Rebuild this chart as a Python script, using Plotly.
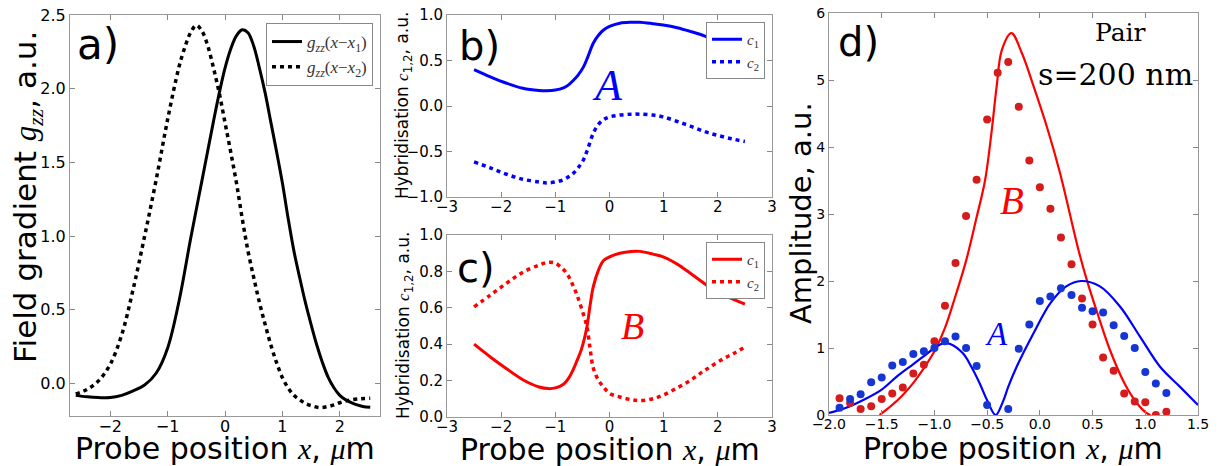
import plotly.graph_objects as go

# ---------------- data ----------------
# panel a: field gradient g_zz
a_x_solid = [-2.6, -2.4, -2.2, -2.0, -1.8, -1.6, -1.4, -1.2, -1.0, -0.8, -0.6, -0.4, -0.2, -0.1, 0.0, 0.1, 0.2, 0.3, 0.4, 0.5,
             0.6, 0.7, 0.8, 0.9, 1.0, 1.1, 1.2, 1.3, 1.4, 1.5, 1.6, 1.7, 1.8, 1.9, 2.0, 2.1, 2.2, 2.3, 2.4, 2.53]
a_y_solid = [-0.08, -0.09, -0.095, -0.095, -0.08, -0.05, -0.01, 0.07, 0.24, 0.56, 0.98, 1.38, 1.78, 1.97, 2.14, 2.27, 2.36, 2.40, 2.38, 2.29,
             2.14, 1.97, 1.77, 1.57, 1.36, 1.12, 0.90, 0.72, 0.55, 0.40, 0.26, 0.14, 0.04, -0.03, -0.08, -0.11, -0.13, -0.145, -0.155, -0.16]
a_x_dot = [-2.6, -2.4, -2.2, -2.0, -1.8, -1.6, -1.4, -1.2, -1.0, -0.8, -0.7, -0.6, -0.5, -0.4, -0.3, -0.2, -0.1, 0.0, 0.1, 0.2,
           0.3, 0.4, 0.5, 0.6, 0.7, 0.8, 0.9, 1.0, 1.1, 1.2, 1.3, 1.4, 1.5, 1.66, 1.8, 1.9, 2.0, 2.13, 2.3, 2.53]
a_y_dot = [-0.07, -0.04, 0.02, 0.13, 0.33, 0.64, 1.00, 1.38, 1.79, 2.15, 2.28, 2.38, 2.43, 2.39, 2.29, 2.14, 1.97, 1.77, 1.57, 1.36,
           1.12, 0.90, 0.72, 0.55, 0.40, 0.26, 0.14, 0.04, -0.03, -0.08, -0.11, -0.135, -0.15, -0.163, -0.155, -0.145, -0.13, -0.115, -0.105, -0.10]

# panel b: hybridisation, state A
b_x = [-2.5, -2.2, -1.9, -1.6, -1.3, -1.16, -1.0, -0.85, -0.75, -0.67, -0.58, -0.48, -0.4, -0.3, -0.2, -0.11, 0.0, 0.19,
       0.4, 0.56, 0.8, 0.99, 1.25, 1.49, 1.75, 1.98, 2.25, 2.5]
b_c1 = [0.40, 0.32, 0.25, 0.195, 0.17, 0.167, 0.175, 0.20, 0.235, 0.28, 0.34, 0.43, 0.54, 0.69, 0.78, 0.835, 0.875, 0.91,
        0.92, 0.92, 0.905, 0.89, 0.86, 0.82, 0.77, 0.71, 0.665, 0.62]
b_c2 = [-0.615, -0.68, -0.75, -0.805, -0.835, -0.845, -0.835, -0.81, -0.775, -0.74, -0.68, -0.59, -0.47, -0.30, -0.20, -0.15, -0.12, -0.10,
        -0.09, -0.09, -0.10, -0.12, -0.17, -0.22, -0.28, -0.32, -0.36, -0.39]

# panel c: hybridisation, state B
c_x = [-2.5, -2.2, -1.9, -1.6, -1.3, -1.13, -1.0, -0.85, -0.75, -0.67, -0.6, -0.52, -0.42, -0.36, -0.3, -0.2, -0.11, 0.0,
       0.19, 0.4, 0.56, 0.8, 0.99, 1.25, 1.49, 1.7, 1.86, 2.1, 2.3, 2.5]
c_c1 = [0.40, 0.33, 0.265, 0.205, 0.165, 0.156, 0.16, 0.18, 0.215, 0.26, 0.31, 0.37, 0.49, 0.61, 0.715, 0.81, 0.86, 0.88,
        0.90, 0.91, 0.91, 0.895, 0.88, 0.84, 0.79, 0.745, 0.71, 0.67, 0.645, 0.62]
c_c2 = [0.605, 0.67, 0.735, 0.795, 0.835, 0.85, 0.845, 0.81, 0.77, 0.72, 0.67, 0.60, 0.50, 0.38, 0.27, 0.20, 0.165, 0.13,
        0.11, 0.095, 0.09, 0.10, 0.12, 0.16, 0.20, 0.245, 0.275, 0.32, 0.35, 0.385]

# panel d: amplitude (theory lines + measured points)
dB_line_x = [-1.52, -1.4, -1.3, -1.2, -1.1, -1.0, -0.9, -0.8, -0.7, -0.6, -0.52, -0.46, -0.41, -0.36, -0.27, -0.17, -0.06, 0.065,
             0.19, 0.365, 0.45, 0.55, 0.665, 0.8, 0.9, 1.01, 1.05]
dB_line_y = [0.0, 0.15, 0.3, 0.48, 0.7, 0.95, 1.3, 1.78, 2.3, 2.95, 3.5, 4.2, 4.9, 5.45, 5.70, 5.40, 4.91, 4.31,
             3.62, 2.47, 1.99, 1.5, 0.97, 0.48, 0.22, 0.03, 0.0]
dA_line_x = [-2.0, -1.85, -1.68, -1.5, -1.36, -1.2, -1.1, -1.0, -0.92, -0.85, -0.73, -0.65, -0.57, -0.5, -0.42, -0.35, -0.3,
             -0.22, -0.06, 0.1, 0.25, 0.39, 0.57, 0.76, 0.95, 1.14, 1.33, 1.5]
dA_line_y = [0.03, 0.10, 0.22, 0.38, 0.57, 0.76, 0.88, 1.0, 1.07, 1.06, 0.92, 0.72, 0.47, 0.22, 0.0, 0.2, 0.42,
             0.72, 1.22, 1.67, 1.92, 2.0, 1.92, 1.62, 1.17, 0.72, 0.42, 0.15]
dB_pts_x = [-1.9, -1.8, -1.7, -1.6, -1.5, -1.4, -1.3, -1.2, -1.1, -1.0, -0.9, -0.8, -0.7, -0.6, -0.5, -0.4, -0.3, -0.2, -0.1, 0.0,
            0.1, 0.2, 0.3, 0.4, 0.5, 0.6, 0.7, 0.8, 0.9, 1.0, 1.1, 1.2]
dB_pts_y = [0.25, 0.18, 0.09, 0.13, 0.24, 0.32, 0.41, 0.62, 0.75, 1.10, 1.63, 2.27, 2.97, 3.51, 4.41, 5.11, 5.27, 4.60, 3.80, 3.40,
            3.08, 2.65, 2.25, 1.74, 1.35, 0.86, 0.66, 0.32, 0.20, 0.19, 0.0, 0.05]
dA_pts_x = [-1.9, -1.8, -1.7, -1.6, -1.5, -1.4, -1.3, -1.2, -1.1, -1.0, -0.9, -0.8, -0.7, -0.6, -0.5, -0.3, -0.2, -0.1, 0.0,
            0.1, 0.2, 0.3, 0.4, 0.5, 0.6, 0.7, 0.8, 0.9, 1.0, 1.1, 1.2]
dA_pts_y = [0.11, 0.24, 0.31, 0.49, 0.56, 0.74, 0.79, 0.91, 0.95, 1.00, 1.10, 1.17, 1.00, 0.73, 0.15, 0.09, 0.99, 1.35, 1.70,
            1.77, 1.89, 1.79, 1.60, 1.55, 1.53, 1.34, 1.18, 1.00, 0.64, 0.47, 0.33]

# tick values
a_xticks = [-2, -1, 0, 1, 2]
a_yticks = [0.0, 0.5, 1.0, 1.5, 2.0, 2.5]
bc_xticks = [-3, -2, -1, 0, 1, 2, 3]
b_yticks = [-1.0, -0.5, 0.0, 0.5, 1.0]
c_yticks = [0.0, 0.2, 0.4, 0.6, 0.8, 1.0]
d_xticks = [-2.0, -1.5, -1.0, -0.5, 0.0, 0.5, 1.0, 1.5]
d_yticks = [0, 1, 2, 3, 4, 5, 6]

# ---------------- styling ----------------
W, H = 1227, 466
BLUE = "#0000ff"
RED = "#ff0000"
BLUE_PT = "#1535d4"
RED_PT = "#d41c1c"
SERIF = "Liberation Serif"
SANS = "DejaVu Sans"


def fx(px):
    return px / W


def fy(py):
    return 1 - py / H


def axis_style(domain, rng, tickvals, size, anchor, fmt=None, standoff=0):
    d = dict(domain=domain, range=rng, tickvals=tickvals, showline=True, linecolor="#999999",
             linewidth=1, mirror="ticks", ticks="inside", ticklen=5, tickcolor="#888888",
             showgrid=False, zeroline=False, automargin=False, anchor=anchor,
             ticklabelstandoff=standoff,
             tickfont=dict(family=SANS, size=size, color="black"))
    if fmt:
        d["tickformat"] = fmt
    return d


fig = go.Figure()
dash_dot = "4px,4px"

# panel a
fig.add_trace(go.Scatter(x=a_x_solid, y=a_y_solid, mode="lines", line=dict(color="black", width=3, shape="spline"),
                         name="<i>g</i><sub><i>zz</i></sub>(<i>x</i>−<i>x</i><sub>1</sub>)", xaxis="x", yaxis="y", legend="legend"))
fig.add_trace(go.Scatter(x=a_x_dot, y=a_y_dot, mode="lines", line=dict(color="black", width=3.5, dash=dash_dot, shape="spline"),
                         name="<i>g</i><sub><i>zz</i></sub>(<i>x</i>−<i>x</i><sub>2</sub>)", xaxis="x", yaxis="y", legend="legend"))
# panel b
fig.add_trace(go.Scatter(x=b_x, y=b_c1, mode="lines", line=dict(color=BLUE, width=3, shape="spline"),
                         name="<i>c</i><sub>1</sub>", xaxis="x2", yaxis="y2", legend="legend2"))
fig.add_trace(go.Scatter(x=b_x, y=b_c2, mode="lines", line=dict(color=BLUE, width=3.5, dash=dash_dot, shape="spline"),
                         name="<i>c</i><sub>2</sub>", xaxis="x2", yaxis="y2", legend="legend2"))
# panel c
fig.add_trace(go.Scatter(x=c_x, y=c_c1, mode="lines", line=dict(color=RED, width=3, shape="spline"),
                         name="<i>c</i><sub>1</sub>", xaxis="x3", yaxis="y3", legend="legend3"))
fig.add_trace(go.Scatter(x=c_x, y=c_c2, mode="lines", line=dict(color=RED, width=3.5, dash=dash_dot, shape="spline"),
                         name="<i>c</i><sub>2</sub>", xaxis="x3", yaxis="y3", legend="legend3"))
# panel d
fig.add_trace(go.Scatter(x=dB_line_x, y=dB_line_y, mode="lines", line=dict(color=RED, width=2.2, shape="spline"),
                         showlegend=False, xaxis="x4", yaxis="y4"))
fig.add_trace(go.Scatter(x=dA_line_x, y=dA_line_y, mode="lines", line=dict(color=BLUE, width=2.2, shape="spline"),
                         showlegend=False, xaxis="x4", yaxis="y4"))
fig.add_trace(go.Scatter(x=dB_pts_x, y=dB_pts_y, mode="markers", marker=dict(color=RED_PT, size=8),
                         showlegend=False, xaxis="x4", yaxis="y4"))
fig.add_trace(go.Scatter(x=dA_pts_x, y=dA_pts_y, mode="markers", marker=dict(color=BLUE_PT, size=8),
                         showlegend=False, xaxis="x4", yaxis="y4"))

legend_common = dict(xanchor="right", yanchor="top", bordercolor="#888888", borderwidth=1,
                     bgcolor="white", tracegroupgap=0, itemwidth=30)

fig.update_layout(
    width=W, height=H, margin=dict(l=0, r=0, t=0, b=0),
    paper_bgcolor="white", plot_bgcolor="white",
    xaxis=axis_style([fx(70), fx(380)], [-2.7, 2.7], a_xticks, 16, "y", standoff=-4),
    yaxis=axis_style([fy(416), fy(15)], [-0.22, 2.5], a_yticks, 16, "x", ".1f"),
    xaxis2=axis_style([fx(447), fx(772)], [-3, 3], bc_xticks, 15, "y2", standoff=-4),
    yaxis2=axis_style([fy(197), fy(15)], [-1, 1], b_yticks, 15, "x2", ".1f"),
    xaxis3=axis_style([fx(447), fx(772)], [-3, 3], bc_xticks, 15, "y3", standoff=-4),
    yaxis3=axis_style([fy(417), fy(235)], [0, 1], c_yticks, 15, "x3", ".1f"),
    xaxis4=axis_style([fx(829), fx(1198)], [-2.0, 1.5], d_xticks, 14, "y4", ".1f", standoff=-4),
    yaxis4=axis_style([fy(415), fy(13)], [0, 6], d_yticks, 14, "x4"),
    legend=dict(x=fx(373), y=fy(23), font=dict(family=SERIF, size=17, color="#333333"), **legend_common),
    legend2=dict(x=fx(765), y=fy(22), font=dict(family=SERIF, size=15, color="#333333"), **legend_common),
    legend3=dict(x=fx(765), y=fy(242), font=dict(family=SERIF, size=15, color="#333333"), **legend_common),
)


def ann(text, px, py, size, family=SANS, color="black", angle=0):
    fig.add_annotation(text=text, x=fx(px), y=fy(py), xref="paper", yref="paper",
                       xanchor="center", yanchor="middle", showarrow=False, textangle=angle,
                       font=dict(family=family, size=size, color=color))


def serif_i(s):
    return '<span style="font-family:Liberation Serif"><i>' + s + '</i></span>'


# axis titles
xt = "Probe position " + serif_i("x") + ", " + serif_i("μ") + "m"
ann(xt, 225, 448, 30)
ann(xt, 610, 449, 30)
ann(xt, 1013, 448, 30)
ann("Field gradient " + serif_i("g") + "<sub>" + serif_i("zz") + "</sub>, a.u.", 27, 197, 31, angle=-90)
ann("Hybridisation " + serif_i("c") + "<sub>1,2</sub>, a.u.", 404, 106, 17, angle=-90)
ann("Hybridisation " + serif_i("c") + "<sub>1,2</sub>, a.u.", 404, 326, 17, angle=-90)
ann("Amplitude, a.u.", 801, 213, 29, angle=-90)

# panel labels
ann("a)", 98, 44, 42)
ann("b)", 479, 46, 40)
ann("c)", 476, 268, 40)
ann("d)", 859, 42, 40)

# state labels
ann("<i>A</i>", 607, 86, 44, SERIF, BLUE)
ann("<i>B</i>", 632, 326, 38, SERIF, RED)
ann("<i>B</i>", 1012, 200, 39, SERIF, RED)
ann("<i>A</i>", 996, 334, 33, SERIF, BLUE)
ann("Pair", 1120, 33, 25, "DejaVu Serif")
ann("s=200 nm", 1115, 74, 30, "DejaVu Serif")

fig.write_html("out.html", config={"displayModeBar": False},
               post_script="document.body.style.margin='0';document.body.style.overflow='hidden';")
